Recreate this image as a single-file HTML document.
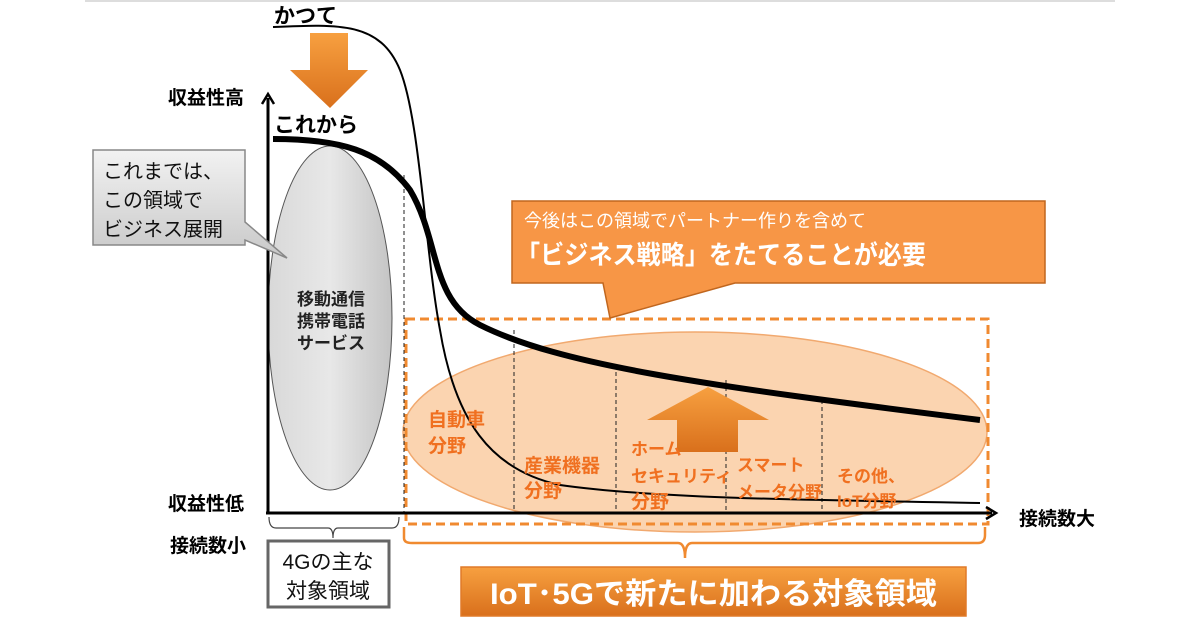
<!DOCTYPE html>
<html><head><meta charset="utf-8"><style>
html,body{margin:0;padding:0;background:#fff;width:1200px;height:630px;overflow:hidden}
svg text{font-family:"Liberation Sans","Noto Sans CJK JP",sans-serif;font-weight:bold}
</style></head><body>
<svg width="1200" height="630" viewBox="0 0 1200 630" xmlns="http://www.w3.org/2000/svg">
<defs>
<linearGradient id="og" x1="0" y1="0" x2="0" y2="1"><stop offset="0" stop-color="#f7a040"/><stop offset="1" stop-color="#d9701c"/></linearGradient>
<linearGradient id="gg" x1="0" y1="0" x2="0" y2="1"><stop offset="0" stop-color="#f2f2f2"/><stop offset="1" stop-color="#c8c8c8"/></linearGradient>
<linearGradient id="eg" x1="0" y1="0" x2="1" y2="0"><stop offset="0" stop-color="#d8d8d8"/><stop offset="0.5" stop-color="#e8e8e8"/><stop offset="1" stop-color="#c4c4c4"/></linearGradient>
</defs>
<line x1="85" y1="1" x2="1115" y2="1" stroke="#ddd" stroke-width="2"/>
<ellipse cx="695" cy="432" rx="292" ry="100" fill="#fbd0a8" stroke="#f0a060" stroke-width="1.5" opacity="0.9"/>
<ellipse cx="330" cy="318" rx="62" ry="172" fill="url(#eg)" stroke="#555" stroke-width="1"/>
<g stroke="#222" stroke-width="1" stroke-dasharray="4,3">
<line x1="404" y1="175" x2="404" y2="513"/>
<line x1="514" y1="330" x2="514" y2="513"/>
<line x1="616" y1="365" x2="616" y2="513"/>
<line x1="726" y1="380" x2="726" y2="513"/>
<line x1="822" y1="400" x2="822" y2="513"/>
</g>
<rect x="406" y="319" width="582" height="205" fill="none" stroke="#f08a30" stroke-width="3" stroke-dasharray="9,5"/>
<line x1="266" y1="513" x2="992" y2="513" stroke="#000" stroke-width="3"/>
<polyline points="986,507 996,513 986,519" fill="none" stroke="#000" stroke-width="2.5"/>
<path d="M273,27 C340,24 380,22 400,70 C420,120 425,250 440,330 C455,420 490,470 560,485 C650,498 800,500 980,503" fill="none" stroke="#000" stroke-width="2"/>
<path d="M273,139 C340,139 380,150 410,190 C440,240 430,300 480,325 C560,365 700,385 980,420" fill="none" stroke="#000" stroke-width="6"/>
<polygon points="708,387 769,420 738,420 738,452 677,452 677,420 647,420" fill="url(#og)"/>
<line x1="268" y1="98" x2="268" y2="514" stroke="#000" stroke-width="3"/>
<polyline points="262,104 268,94 274,104" fill="none" stroke="#000" stroke-width="2.5"/>
<polygon points="310,33 348,33 348,70 368,70 330,108 290,70 310,70" fill="url(#og)"/>
<text x="274" y="23" font-size="21">かつて</text>
<text x="274" y="132" font-size="21">これから</text>
<text x="168" y="104" font-size="19">収益性高</text>
<text x="168" y="510" font-size="19">収益性低</text>
<text x="170" y="552" font-size="19">接続数小</text>
<text x="1019" y="525" font-size="19">接続数大</text>
<path d="M93,150 H245 V222 L287,258 L245,240 V245 H93 Z" fill="url(#gg)" stroke="#888" stroke-width="1.5"/>
<g font-size="20" fill="#111">
<text x="103" y="178" style="font-weight:normal">これまでは、</text>
<text x="103" y="207" style="font-weight:normal">この領域で</text>
<text x="103" y="236" style="font-weight:normal">ビジネス展開</text>
</g>
<g font-size="17" fill="#222" text-anchor="middle">
<text x="331" y="305">移動通信</text>
<text x="331" y="327">携帯電話</text>
<text x="331" y="349">サービス</text>
</g>
<path d="M512,201 H1045 V283 H735 L610,318 L603,283 H512 Z" fill="#f79646" stroke="#c0661e" stroke-width="1.5"/>
<text x="524" y="227" font-size="18" fill="#fff" style="font-weight:normal">今後はこの領域でパートナー作りを含めて</text>
<text x="516" y="264" font-size="26" fill="#fff" textLength="410" lengthAdjust="spacingAndGlyphs">「ビジネス戦略」をたてることが必要</text>
<g font-size="19" fill="#f07020">
<text x="428" y="426">自動車</text><text x="428" y="452">分野</text>
<text x="524" y="472">産業機器</text><text x="524" y="497">分野</text>
<text x="631" y="455" font-size="17">ホーム</text><text x="631" y="482" font-size="17">セキュリティ</text><text x="631" y="508">分野</text>
<text x="737" y="471" font-size="17">スマート</text><text x="737" y="498" font-size="17">メータ分野</text>
<text x="837" y="482" font-size="17">その他、</text><text x="837" y="507" font-size="17">IoT分野</text>
</g>
<path d="M269,517 Q269,528 276,528 H328 Q333,528 333,538 Q333,528 338,528 H392 Q399,528 399,517" fill="none" stroke="#444" stroke-width="1.2"/>
<rect x="268" y="541" width="121" height="66" fill="#fff" stroke="#666" stroke-width="3"/>
<text x="328" y="569" font-size="21" fill="#111" text-anchor="middle" style="font-weight:normal">4Gの主な</text>
<text x="328" y="598" font-size="21" fill="#111" text-anchor="middle" style="font-weight:normal">対象領域</text>
<path d="M404,527 V538 Q404,543 412,543 H678 Q685,543 685,558 Q685,543 692,543 H978 Q985,543 985,535 V527" fill="none" stroke="#f08a30" stroke-width="2.5"/>
<rect x="461" y="567" width="505" height="49" fill="url(#og)" stroke="#e07a28" stroke-width="1.5"/>
<text x="490" y="604" font-size="30" fill="#fff" textLength="447" lengthAdjust="spacingAndGlyphs">IoT･5Gで新たに加わる対象領域</text>
</svg>
</body></html>
